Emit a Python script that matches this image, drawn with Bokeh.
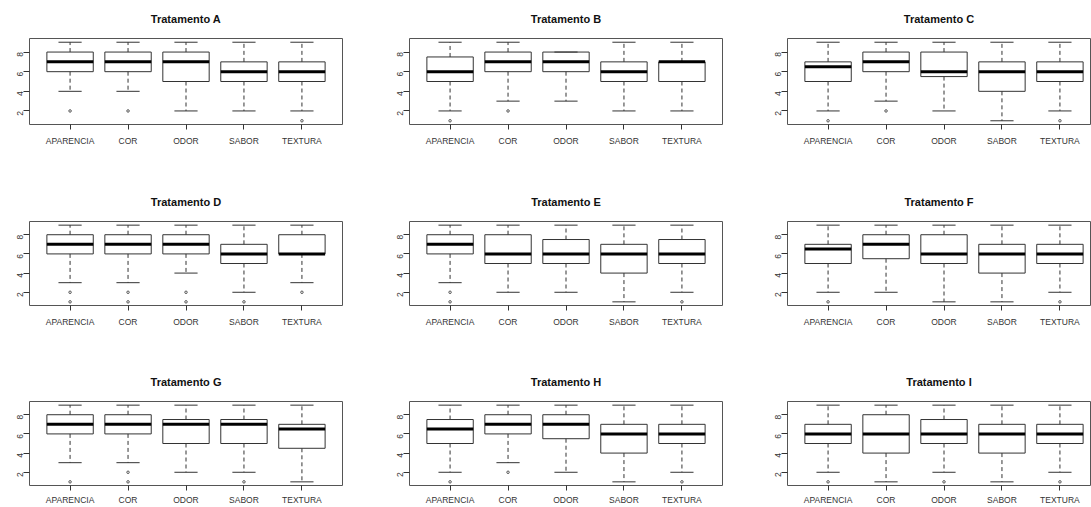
import math
from bokeh.plotting import figure
from bokeh.layouts import column, row
from bokeh.models import Range1d, FixedTicker, ColumnDataSource
from bokeh.embed import file_html
from bokeh.resources import INLINE

categories = ["APARENCIA", "COR", "ODOR", "SABOR", "TEXTURA"]
treatments = ["A", "B", "C", "D", "E", "F", "G", "H", "I"]

lower_whisker = {
    "A": [4, 4, 2, 2, 2], "B": [2, 3, 3, 2, 2], "C": [2, 3, 2, 1, 2],
    "D": [3, 3, 4, 2, 3], "E": [3, 2, 2, 1, 2], "F": [2, 2, 1, 1, 2],
    "G": [3, 3, 2, 2, 1], "H": [2, 3, 2, 1, 2], "I": [2, 1, 2, 1, 2],
}
q1 = {
    "A": [6, 6, 5, 5, 5], "B": [5, 6, 6, 5, 5], "C": [5, 6, 5.5, 4, 5],
    "D": [6, 6, 6, 5, 6], "E": [6, 5, 5, 4, 5], "F": [5, 5.5, 5, 4, 5],
    "G": [6, 6, 5, 5, 4.5], "H": [5, 6, 5.5, 4, 5], "I": [5, 4, 5, 4, 5],
}
median = {
    "A": [7, 7, 7, 6, 6], "B": [6, 7, 7, 6, 7], "C": [6.5, 7, 6, 6, 6],
    "D": [7, 7, 7, 6, 6], "E": [7, 6, 6, 6, 6], "F": [6.5, 7, 6, 6, 6],
    "G": [7, 7, 7, 7, 6.5], "H": [6.5, 7, 7, 6, 6], "I": [6, 6, 6, 6, 6],
}
q3 = {
    "A": [8, 8, 8, 7, 7], "B": [7.5, 8, 8, 7, 7], "C": [7, 8, 8, 7, 7],
    "D": [8, 8, 8, 7, 8], "E": [8, 8, 7.5, 7, 7.5], "F": [7, 8, 8, 7, 7],
    "G": [8, 8, 7.5, 7.5, 7], "H": [7.5, 8, 8, 7, 7], "I": [7, 8, 7.5, 7, 7],
}
upper_whisker = {
    "A": [9, 9, 9, 9, 9], "B": [9, 9, 8, 9, 9], "C": [9, 9, 9, 9, 9],
    "D": [9, 9, 9, 9, 9], "E": [9, 9, 9, 9, 9], "F": [9, 9, 9, 9, 9],
    "G": [9, 9, 9, 9, 9], "H": [9, 9, 9, 9, 9], "I": [9, 9, 9, 9, 9],
}
outlier_cat = {
    "A": ["APARENCIA", "COR", "TEXTURA"],
    "B": ["APARENCIA", "COR"],
    "C": ["APARENCIA", "COR", "TEXTURA"],
    "D": ["APARENCIA", "APARENCIA", "COR", "COR", "ODOR", "ODOR", "SABOR", "TEXTURA"],
    "E": ["APARENCIA", "APARENCIA", "TEXTURA"],
    "F": ["APARENCIA", "TEXTURA"],
    "G": ["APARENCIA", "COR", "COR", "SABOR"],
    "H": ["APARENCIA", "COR", "TEXTURA"],
    "I": ["APARENCIA", "ODOR", "TEXTURA"],
}
outlier_val = {
    "A": [2, 2, 1],
    "B": [1, 2],
    "C": [1, 2, 1],
    "D": [2, 1, 2, 1, 2, 1, 1, 2],
    "E": [2, 1, 1],
    "F": [1, 1],
    "G": [1, 2, 1, 1],
    "H": [1, 2, 1],
    "I": [1, 1, 1],
}

FONT = "Liberation Sans"
BOX_W = 0.8
CAP_W = 0.4
PX_PER_UNIT = 313 / 5.4

col_w = [388, 378, 325]
col_lb = [29, 21, 21]
col_rb = [46, 44, 1]
row_h = [183, 180, 144]
row_frame = [86, 84, 85]


def make_panel(t, ci, ri):
    w, h = col_w[ci], row_h[ri]
    frame_w = w - col_lb[ci] - col_rb[ci]
    x_end = 0.3 + frame_w / PX_PER_UNIT
    bb = h - 38 - row_frame[ri]
    p = figure(width=w, height=h, x_range=Range1d(0.3, x_end),
               y_range=Range1d(0.62, 9.38), output_backend="svg",
               toolbar_location=None, min_border_left=col_lb[ci],
               min_border_right=col_rb[ci], min_border_top=38,
               min_border_bottom=bb, title="Tratamento " + t)
    p.title.align = "center"
    p.title.vertical_align = "top"
    p.title.text_font = FONT
    p.title.text_font_size = "11px"
    p.title.text_font_style = "bold"
    p.title.text_color = "#111111"
    p.title.standoff = 24
    p.outline_line_color = "#555555"
    p.outline_line_width = 1
    p.xgrid.visible = False
    p.ygrid.visible = False
    p.background_fill_color = "white"
    p.border_fill_color = "white"

    pos = [i + 1 for i in range(len(categories))]
    src = ColumnDataSource(dict(
        x=pos,
        left=[x - BOX_W / 2 for x in pos], right=[x + BOX_W / 2 for x in pos],
        cl=[x - CAP_W / 2 for x in pos], cr=[x + CAP_W / 2 for x in pos],
        low=lower_whisker[t], q1=q1[t], med=median[t], q3=q3[t],
        high=upper_whisker[t],
    ))
    p.segment(x0="x", y0="q3", x1="x", y1="high", source=src,
              line_color="#333333", line_width=1, line_dash="4 3")
    p.segment(x0="x", y0="q1", x1="x", y1="low", source=src,
              line_color="#333333", line_width=1, line_dash="4 3")
    p.segment(x0="cl", y0="high", x1="cr", y1="high", source=src,
              line_color="#333333", line_width=1)
    p.segment(x0="cl", y0="low", x1="cr", y1="low", source=src,
              line_color="#333333", line_width=1)
    p.quad(left="left", right="right", bottom="q1", top="q3", source=src,
           fill_color=None, line_color="#333333", line_width=1)
    p.segment(x0="left", y0="med", x1="right", y1="med", source=src,
              line_color="#000000", line_width=3)
    ox = [categories.index(c) + 1 for c in outlier_cat[t]]
    p.scatter(ox, outlier_val[t], marker="circle", size=2.5,
              fill_color=None, line_color="#555555", line_width=1)

    p.xaxis.ticker = FixedTicker(ticks=pos)
    p.xaxis.major_label_overrides = {x: c for x, c in zip(pos, categories)}
    p.yaxis.ticker = FixedTicker(ticks=[2, 4, 6, 8])
    p.yaxis.major_label_orientation = math.pi / 2
    for ax in (p.xaxis, p.yaxis):
        ax.axis_line_color = None
        ax.major_tick_line_color = "#333333"
        ax.minor_tick_line_color = None
        ax.major_tick_in = 0
        ax.major_label_text_font = FONT
        ax.major_label_text_font_size = "8.5px"
        ax.major_label_text_color = "#333333"
    p.xaxis.major_tick_out = 5
    p.xaxis.major_label_standoff = 6 if ri < 2 else 4
    p.yaxis.major_tick_out = 6
    p.yaxis.major_label_standoff = 3
    return p


rows = []
for ri in range(3):
    figs = [make_panel(treatments[ri * 3 + ci], ci, ri) for ci in range(3)]
    rows.append(row(*figs, spacing=0))
layout = column(*rows, spacing=0)

open("out.html", "w").write(file_html(layout, INLINE))
